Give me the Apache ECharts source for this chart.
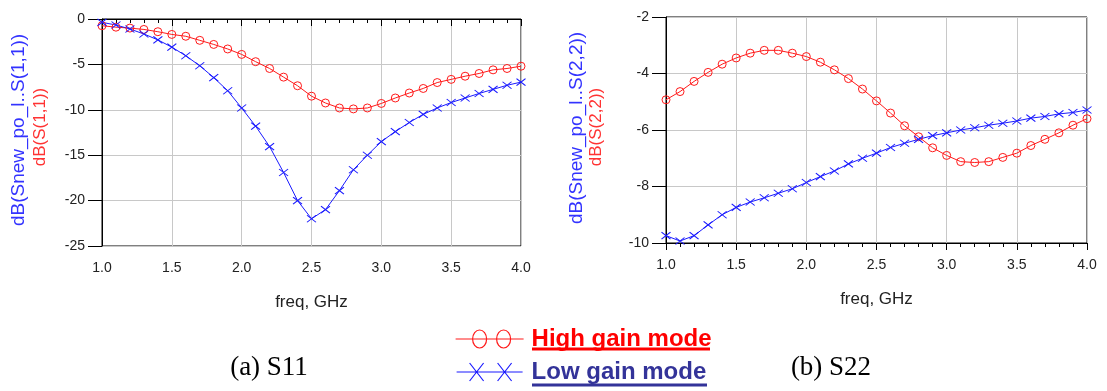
<!DOCTYPE html>
<html>
<head>
<meta charset="utf-8">
<script src="https://cdn.jsdelivr.net/npm/echarts@6/dist/echarts.min.js"></script>
<style>
  html, body { margin: 0; padding: 0; background: #fff; }
  #chart { width: 1107px; height: 391px; }
</style>
</head>
<body>
<div id="chart"></div>
<script>
// frequency points, GHz
var freq = [1.0, 1.1, 1.2, 1.3, 1.4, 1.5, 1.6, 1.7, 1.8, 1.9, 2.0, 2.1, 2.2, 2.3, 2.4, 2.5,
            2.6, 2.7, 2.8, 2.9, 3.0, 3.1, 3.2, 3.3, 3.4, 3.5, 3.6, 3.7, 3.8, 3.9, 4.0];

// S11 (dB)
var s11High = [-0.74, -0.9, -1.0, -1.15, -1.4, -1.7, -1.9, -2.35, -2.8, -3.3, -3.9, -4.7, -5.45, -6.4, -7.35, -8.5,
               -9.25, -9.8, -9.9, -9.8, -9.3, -8.7, -8.15, -7.65, -7.0, -6.65, -6.3, -6.0, -5.6, -5.45, -5.2];
var s11Low = [-0.37, -0.66, -1.1, -1.65, -2.3, -3.1, -4.05, -5.15, -6.45, -7.9, -9.8, -11.8, -14.05, -16.9, -20.0, -22.0,
              -21.0, -18.9, -16.6, -15.0, -13.5, -12.4, -11.4, -10.5, -9.8, -9.2, -8.7, -8.2, -7.75, -7.3, -6.95];

// S22 (dB)
var s22High = [-4.93, -4.64, -4.28, -3.96, -3.67, -3.45, -3.28, -3.18, -3.18, -3.28, -3.4, -3.6, -3.87, -4.18, -4.55, -4.97,
               -5.4, -5.85, -6.24, -6.63, -6.9, -7.12, -7.15, -7.12, -6.97, -6.82, -6.55, -6.33, -6.1, -5.83, -5.6];
var s22Low = [-9.74, -9.93, -9.74, -9.36, -9.0, -8.74, -8.55, -8.4, -8.24, -8.08, -7.86, -7.65, -7.45, -7.2, -7.0, -6.82,
              -6.62, -6.47, -6.33, -6.2, -6.1, -6.0, -5.92, -5.83, -5.76, -5.68, -5.58, -5.52, -5.43, -5.38, -5.29];

var names = ['High gain mode', 'Low gain mode'];
var RED = '#ff1a1a', BLUE = '#1a1aff', NAVY = '#333399';

function pairs(ys) {
    var out = [];
    for (var i = 0; i < freq.length; i++) out.push([freq[i], ys[i]]);
    return out;
}

function xAxisOf(idx) {
    return {
        gridIndex: idx, type: 'value', min: 1, max: 4, interval: 0.5,
        name: 'freq, GHz', nameLocation: 'middle', nameGap: 48,
        nameTextStyle: { fontFamily: 'Arial', fontSize: 17, color: '#222' },
        axisLine: { lineStyle: { color: '#000', width: 1 } },
        axisTick: { length: 7, lineStyle: { color: '#000' } },
        minorTick: { show: true, splitNumber: 5, length: 4, lineStyle: { color: '#000' } },
        axisLabel: { margin: 15, fontFamily: 'Arial', fontSize: 14, color: '#222',
                     formatter: function (v) { return v.toFixed(1); } },
        splitLine: { show: true, lineStyle: { color: '#c8c8c8', width: 1 } }
    };
}

function yAxisOf(idx, min, max, step) {
    return {
        gridIndex: idx, type: 'value', min: min, max: max, interval: step,
        axisLine: { show: true, lineStyle: { color: '#000', width: 1 } },
        axisTick: { show: true, length: 14, lineStyle: { color: '#000' } },
        axisLabel: { margin: 17, fontFamily: 'Arial', fontSize: 14, color: '#222' },
        splitLine: { show: true, lineStyle: { color: '#c8c8c8', width: 1 } }
    };
}

function highSeries(idx, ys) {
    return {
        name: names[0], type: 'line', xAxisIndex: idx, yAxisIndex: idx,
        data: pairs(ys), symbol: 'circle', symbolSize: 8,
        itemStyle: { color: 'rgba(0,0,0,0)', borderColor: RED, borderWidth: 1 },
        lineStyle: { color: RED, width: 1 }, animation: false
    };
}

function lowSeries(idx, ys) {
    return {
        name: names[1], type: 'line', xAxisIndex: idx, yAxisIndex: idx,
        data: pairs(ys), symbol: 'path://M0,0L10,8M10,0L0,8', symbolSize: [9, 7],
        itemStyle: { color: BLUE, borderColor: BLUE, borderWidth: 1 },
        lineStyle: { color: BLUE, width: 1 }, animation: false
    };
}

function vText(x, y, text, color, size) {
    return {
        type: 'text', x: x, y: y, rotation: Math.PI / 2,
        style: { text: text, fill: color, font: size + 'px Arial', align: 'center', verticalAlign: 'middle' }
    };
}

var chart = echarts.init(document.getElementById('chart'));
var option = {
    backgroundColor: '#fff',
    grid: [
        { left: 102, top: 19, width: 419, height: 227, show: true, borderColor: '#000', borderWidth: 1 },
        { left: 666, top: 17, width: 421, height: 226, show: true, borderColor: '#000', borderWidth: 1 }
    ],
    xAxis: [xAxisOf(0), xAxisOf(1)],
    yAxis: [yAxisOf(0, -25, 0, 5), yAxisOf(1, -10, -2, 2)],
    legend: {
        orient: 'vertical', left: 450, top: 322, height: 69,
        itemWidth: 68, itemHeight: 18, itemGap: 9,
        textStyle: { fontFamily: 'Arial', fontWeight: 'bold', fontSize: 24, padding: [0, 0, 0, 3] },
        data: [
            { name: names[0],
              icon: 'path://M0,9L68,9M17,9A7,9,0,1,1,31,9A7,9,0,1,1,17,9M41,9A7,9,0,1,1,55,9A7,9,0,1,1,41,9',
              itemStyle: { color: 'rgba(0,0,0,0)', borderColor: RED, borderWidth: 1.2 },
              textStyle: { color: '#ff0000' } },
            { name: names[1],
              icon: 'path://M0,9L66,9M13,0L27,18M27,0L13,18M41,0L55,18M55,0L41,18',
              itemStyle: { color: 'rgba(0,0,0,0)', borderColor: BLUE, borderWidth: 1.2 },
              textStyle: { color: NAVY } }
        ]
    },
    series: [
        highSeries(0, s11High), lowSeries(0, s11Low),
        highSeries(1, s22High), lowSeries(1, s22Low)
    ],
    graphic: [
        vText(19, 130, 'dB(Snew_po_l..S(1,1))', '#3333ff', 19),
        vText(40, 127, 'dB(S(1,1))', '#ff3333', 17),
        vText(577, 128, 'dB(Snew_po_l..S(2,2))', '#3333ff', 19),
        vText(596, 127, 'dB(S(2,2))', '#ff3333', 17),
        { type: 'text', x: 269, y: 368,
          style: { text: '(a) S11', font: '27px "Liberation Serif"', fill: '#000', align: 'center', verticalAlign: 'middle' } },
        { type: 'text', x: 831, y: 368,
          style: { text: '(b) S22', font: '27px "Liberation Serif"', fill: '#000', align: 'center', verticalAlign: 'middle' } },
        // underlines under the legend text
        { type: 'line', shape: { x1: 532, y1: 349, x2: 710, y2: 349 }, style: { stroke: '#ff0000', lineWidth: 3 } },
        { type: 'line', shape: { x1: 532, y1: 385, x2: 707, y2: 385 }, style: { stroke: NAVY, lineWidth: 3 } }
    ]
};
chart.setOption(option);
</script>
</body>
</html>
